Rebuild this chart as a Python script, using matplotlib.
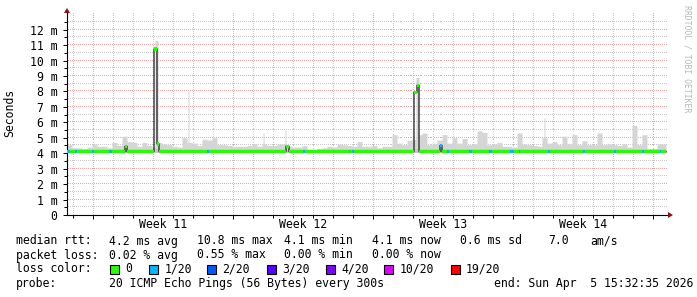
import numpy as np
import matplotlib
matplotlib.use('Agg')
import matplotlib.pyplot as plt
from matplotlib.patches import Rectangle, Polygon

W, H = 697, 297

# time axis: days from the left edge of the graph (20 px per day)
data_end = 29.95
day_lines = np.arange(0.3, 30, 1.0)
week_lines = np.arange(1.3, 30, 7.0)
week_centers = [4.8, 11.8, 18.8, 25.8]
week_labels = ['Week 11', 'Week 12', 'Week 13', 'Week 14']

# median rtt (ms): flat baseline plus a few steps
baseline_rtt = 4.1
median_start = [2.875, 4.35, 4.485, 10.95, 17.35, 17.485, 18.625]
median_end = [3.0, 4.485, 4.6, 11.075, 17.485, 17.6, 18.75]
median_value = [4.45, 10.75, 4.6, 4.45, 7.95, 8.4, 4.5]

# packet loss 1/20 periods
loss_start = [0.05, 0.4, 1.25, 2.1, 7.0, 11.8, 14.1, 14.25, 18.625, 19.0, 20.1,
              21.1, 22.15, 22.6, 24.05, 25.8, 27.35, 28.75, 29.65]
loss_end = [0.15, 0.5, 1.35, 2.25, 7.1, 11.9, 14.15, 14.35, 18.75, 19.1, 20.25,
            21.25, 22.35, 22.65, 24.15, 25.9, 27.45, 28.85, 29.7]

# smoke top (ms) in quarter-day chunks
smoke_top = [4.55, 4.35, 4.35, 4.3, 4.4, 4.6, 4.45, 4.45, 4.35, 4.7,
             4.5, 5.1, 4.75, 4.7, 4.45, 4.7, 4.5, 4.4, 4.7, 4.6,
             4.55, 4.45, 4.4, 5.0, 4.7, 4.65, 4.5, 4.9, 4.85, 5.0,
             4.55, 4.55, 4.5, 4.45, 4.45, 4.45, 4.5, 4.6, 4.45, 4.6,
             4.5, 4.5, 4.6, 4.6, 4.45, 4.4, 4.4, 4.5, 4.25, 4.25,
             4.3, 4.35, 4.45, 4.4, 4.6, 4.55, 4.5, 4.45, 4.75, 4.45,
             4.45, 4.5, 4.35, 4.45, 4.45, 5.2, 4.65, 4.55, 4.85, 4.9,
             5.2, 5.3, 4.55, 4.65, 4.85, 5.2, 4.65, 5.0, 4.65, 4.95,
             4.55, 4.6, 5.45, 5.35, 4.55, 4.6, 4.7, 4.45, 4.45, 4.4,
             5.3, 4.6, 4.55, 4.5, 4.45, 5.0, 4.65, 4.75, 4.55, 5.1,
             4.6, 5.2, 4.55, 4.8, 4.55, 4.55, 5.3, 4.55, 4.6, 4.55,
             4.5, 4.6, 4.4, 5.8, 4.55, 5.2, 4.3, 4.3, 4.6, 4.6]
smoke_bottom = 4.05
# narrow smoke peaks
peak_start = [4.4, 6.05, 9.8, 10.9, 17.45, 23.85, 28.3]
peak_end = [4.55, 6.1, 9.85, 10.95, 17.6, 23.9, 28.35]
peak_top = [11.3, 8.0, 5.3, 5.5, 8.9, 6.3, 5.8]

loss_colors = ['#26ff00', '#00b8ff', '#0059ff', '#5e00ff', '#7e00ff', '#dd00ff', '#ff0000']
loss_names = ['0', '1/20', '2/20', '3/20', '4/20', '10/20', '19/20']


def fx(x):
    return x / W


def fy(y):
    return 1 - y / H


mono = 'DejaVu Sans Mono'
fs = 8.3
px_ms = 15.45
ymax = 203 / px_ms

fig = plt.figure(figsize=(W / 100, H / 100), dpi=100)
fig.patch.set_facecolor('white')
ax = fig.add_axes([fx(67), fy(215), 600 / W, 203 / H])
ax.set_xlim(0, 30)
ax.set_ylim(0, ymax)
ax.set_facecolor('white')

# dotted grid, drawn as single pixels every other pixel
gray_grid, red_grid = '#c8c8c8', '#eea4a4'
dot_x = np.arange(0.025, 30, 0.1)
dot_y = np.arange(0.5 / px_ms, ymax, 2 / px_ms)
for v in np.arange(0.5, 13, 1.0):
    ax.plot(dot_x, np.full(len(dot_x), v), ',', color=gray_grid, zorder=1)
for v in range(1, 13):
    ax.plot(dot_x, np.full(len(dot_x), v), ',', color=red_grid, zorder=1)
for v in day_lines:
    col = red_grid if np.any(np.isclose(week_lines, v)) else gray_grid
    ax.plot(np.full(len(dot_y), v), dot_y, ',', color=col, zorder=1)

# per-pixel series
step = 0.05
t = np.arange(0, data_end, step)
med = np.full(len(t), baseline_rtt)
for s, e, v in zip(median_start, median_end, median_value):
    med[(t >= s - 1e-9) & (t < e - 1e-9)] = v
loss = np.zeros(len(t), dtype=int)
for s, e in zip(loss_start, loss_end):
    loss[(t >= s - 1e-9) & (t < e - 1e-9)] = 1
smoke = np.array(smoke_top)[np.minimum((t / 0.25).astype(int), len(smoke_top) - 1)]
for s, e, v in zip(peak_start, peak_end, peak_top):
    m = (t >= s - 1e-9) & (t < e - 1e-9)
    smoke[m] = np.maximum(smoke[m], v)

te = np.append(t, data_end)
ax.fill_between(te, smoke_bottom, np.append(smoke, smoke[-1]), step='post',
                color='#d5d5d5', lw=0, zorder=2)
ax.fill_between(te, smoke_bottom, np.minimum(np.append(smoke, smoke[-1]), 4.3), step='post',
                color='#c8c8c8', lw=0, zorder=2)

# median line and loss colored band
ax.step(te, np.append(med, med[-1]), where='post', color='#202020', lw=0.9, zorder=3)
sw = 0.105
i = 0
while i < len(t):
    j = i
    while j + 1 < len(t) and loss[j + 1] == loss[i] and med[j + 1] == med[i]:
        j += 1
    ax.add_patch(Rectangle((t[i], med[i] - sw), (j - i + 1) * step, 2 * sw,
                           facecolor=loss_colors[loss[i]], lw=0, zorder=4))
    i = j + 1

# axes, ticks
for sp in ['top', 'right']:
    ax.spines[sp].set_visible(False)
ax.spines['left'].set_linewidth(0.8)
ax.spines['bottom'].set_linewidth(0.8)
ax.spines['bottom'].set_bounds(0, 30.05)
ax.set_yticks(range(13))
ax.set_yticklabels(['0'] + ['%d m' % v for v in range(1, 13)], fontfamily=mono, fontsize=fs)
ax.set_yticks(np.arange(0.5, 13, 1.0), minor=True)
ax.tick_params(axis='y', which='major', length=3, width=0.72, pad=4)
ax.tick_params(axis='y', which='minor', length=2, width=0.72)
ax.set_xticks(week_lines)
ax.set_xticklabels([])
ax.set_xticks(day_lines, minor=True)
ax.tick_params(axis='x', which='major', length=3, width=0.72)
ax.tick_params(axis='x', which='minor', length=2, width=0.72)
for c, lab in zip(week_centers, week_labels):
    ax.text(c, -10 / 203, lab, transform=ax.get_xaxis_transform(), ha='center', va='center',
            fontfamily=mono, fontsize=fs)

# arrows
fig.add_artist(Polygon([(fx(64), fy(13)), (fx(70), fy(13)), (fx(67), fy(8))], closed=True,
                       transform=fig.transFigure, facecolor='#8b1010', edgecolor='none'))
fig.add_artist(Polygon([(fx(668), fy(212)), (fx(668), fy(218)), (fx(673), fy(215))], closed=True,
                       transform=fig.transFigure, facecolor='#8b1010', edgecolor='none'))

fig.text(fx(10), fy(113), 'Seconds', rotation=90, ha='center', va='center',
         fontfamily=mono, fontsize=fs)
fig.text(fx(687), fy(5), 'RRDTOOL / TOBI OETIKER', rotation=270, ha='center', va='top',
         fontfamily=mono, fontsize=5.9, color='#b8b8b8')

# legend rows
rows = [
    (241, [('median rtt:', 16), ('4.2 ms avg', 109), ('10.8 ms max', 197), ('4.1 ms min', 284),
           ('4.1 ms now', 372), ('0.6 ms sd', 460), ('7.0', 548), ('am/s', 590)]),
    (255, [('packet loss:', 16), ('0.02 % avg', 109), ('0.55 % max', 197), ('0.00 % min', 284),
           ('0.00 % now', 372)]),
    (269, [('loss color:', 16)]),
    (283, [('probe:', 16), ('20 ICMP Echo Pings (56 Bytes) every 300s', 109)]),
]
for y, items in rows:
    for s, x in items:
        fig.text(fx(x), fy(y), s, ha='left', va='center', fontfamily=mono, fontsize=fs)
fig.text(fx(693), fy(283), 'end: Sun Apr  5 15:32:35 2026', ha='right', va='center',
         fontfamily=mono, fontsize=fs)

box_x = [109.5, 149, 207, 267, 325.5, 384, 450.5]
for bx, col, name in zip(box_x, loss_colors, loss_names):
    fig.add_artist(Rectangle((fx(bx), fy(273.5)), 9 / W, 9 / H, transform=fig.transFigure,
                             facecolor=col, edgecolor='black', lw=0.8))
    fig.text(fx(bx + 15.5), fy(269), name, ha='left', va='center', fontfamily=mono, fontsize=fs)

fig.savefig('out.png', dpi=100, facecolor='white')
